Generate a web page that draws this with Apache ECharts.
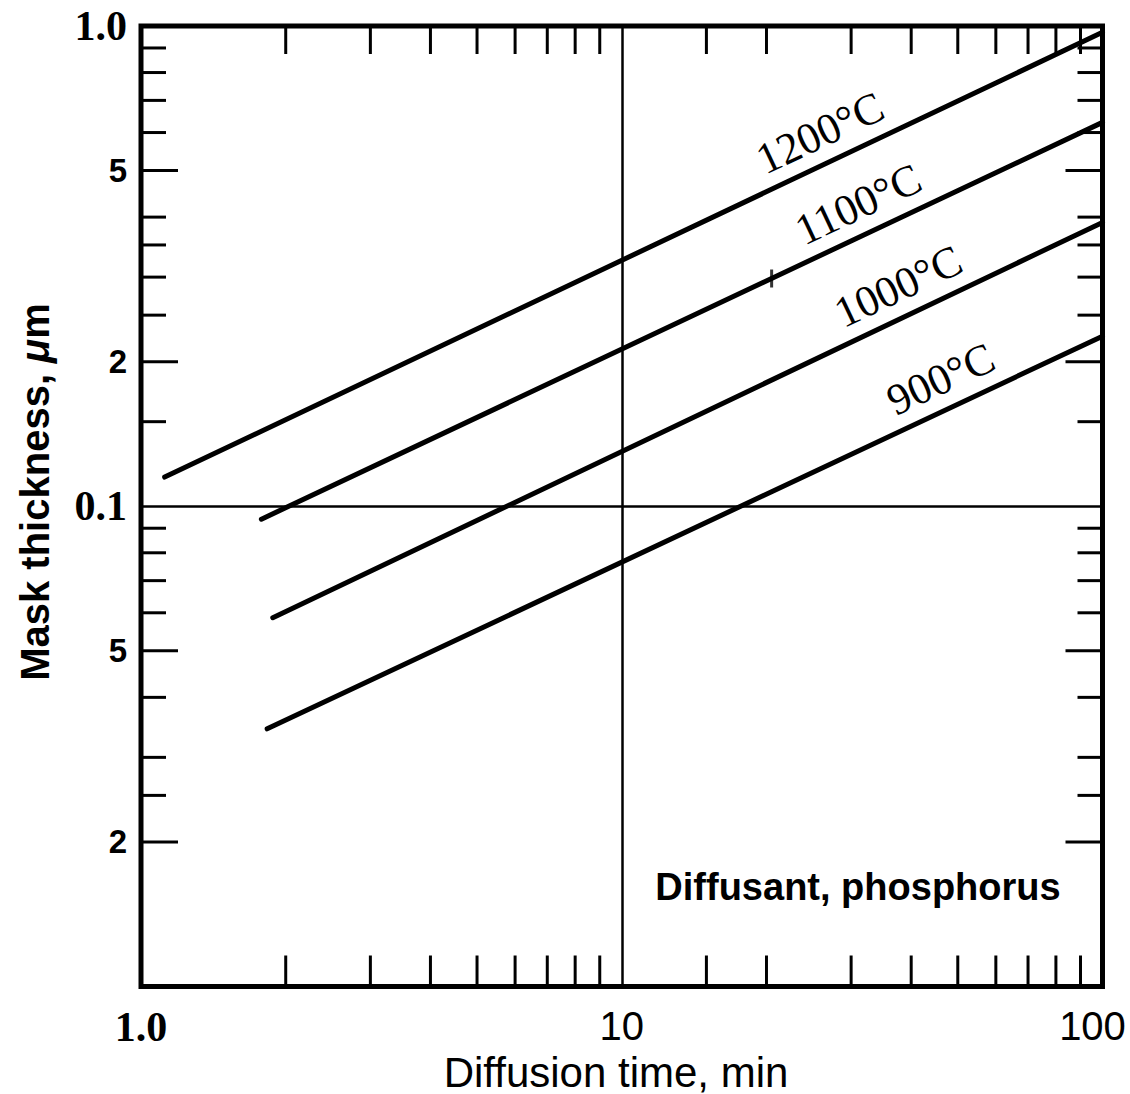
<!DOCTYPE html>
<html>
<head>
<meta charset="utf-8">
<script src="https://cdn.jsdelivr.net/npm/echarts@6/dist/echarts.min.js"></script>
<style>
  html, body { margin: 0; padding: 0; background: #fff; }
  #chart { width: 1130px; height: 1094px; }
</style>
</head>
<body>
<div id="chart"></div>
<script>
// Oxide mask thickness needed against phosphorus diffusion time (log-log)
const temperatures = ['1200°C', '1100°C', '1000°C', '900°C'];
const startTime = [1.12, 1.78, 1.88, 1.83];            // min
const startThickness = [0.115, 0.094, 0.0586, 0.0344]; // µm
const endTime = [100, 100, 100, 100];                  // min
const endThickness = [0.97, 0.63, 0.39, 0.226];        // µm
const crossMark = [[20.5, 0.298]];

// axis ranges and tick marks
const timeRange = [1, 100];
const thicknessRange = [0.01, 1];
const xMinorTicks = [2, 3, 4, 5, 6, 7, 8, 9, 15, 20, 30, 40, 50, 60, 70, 80, 90];
const yMinorTicks = [0.9, 0.8, 0.7, 0.6, 0.5, 0.4, 0.35, 0.3, 0.25, 0.2, 0.15,
                     0.09, 0.08, 0.07, 0.06, 0.05, 0.04, 0.03, 0.025, 0.02];
const yMinorLabelValues = [0.5, 0.2, 0.05, 0.02];
const yMinorLabelTexts = ['5', '2', '5', '2'];
const xMajorValues = [1, 10, 100];
const xMajorTexts = ['1.0', '10', '100'];
const yMajorValues = [1, 0.1, 0.01];
const yMajorTexts = ['1.0', '0.1', ''];

// where each temperature label sits along its line (minutes)
const labelAnchorTime = [27.5, 33, 40, 49];

const same = (a, b) => Math.abs(Math.log10(a) - Math.log10(b)) < 1e-6;
const pick = (values, texts, v) => {
  for (let i = 0; i < values.length; i++) if (same(values[i], v)) return texts[i];
  return '';
};

const INK = '#000';
const SERIF = '"Liberation Serif", "DejaVu Serif", serif';
const SANS = '"Liberation Sans", Arial, sans-serif';

const chart = echarts.init(document.getElementById('chart'), null, { renderer: 'svg' });

const lineSeries = temperatures.map((name, i) => ({
  type: 'line',
  name: name,
  data: [[startTime[i], startThickness[i]], [endTime[i], endThickness[i]]],
  symbol: 'none',
  silent: true,
  lineStyle: { color: INK, width: 5, cap: 'round' },
  z: 5
}));

const option = {
  animation: false,
  backgroundColor: '#fff',
  grid: {
    left: 141, top: 26, right: 27.5, bottom: 107.5,
    show: true, borderColor: INK, borderWidth: 5, backgroundColor: 'transparent'
  },
  xAxis: {
    type: 'log', logBase: 10, min: timeRange[0], max: timeRange[1],
    axisLine: { show: false },
    axisTick: { show: false },
    splitLine: { show: true, lineStyle: { color: INK, width: 2.5 } },
    axisLabel: {
      show: true, margin: 19, showMinLabel: true, showMaxLabel: true,
      formatter: v => {
        const t = pick(xMajorValues, xMajorTexts, v);
        if (same(v, 1)) return '{ser|' + t + '}';
        if (same(v, 100)) return '{last|' + t + '}';
        return '{san|' + t + '}';
      },
      rich: {
        ser: { fontFamily: SERIF, fontWeight: 'bold', fontSize: 42, color: INK },
        san: { fontFamily: SANS, fontSize: 40, color: INK },
        last: { fontFamily: SANS, fontSize: 40, color: INK, padding: [0, 20, 0, 0] }
      }
    }
  },
  yAxis: {
    type: 'log', logBase: 10, min: thicknessRange[0], max: thicknessRange[1],
    axisLine: { show: false },
    axisTick: { show: false },
    splitLine: { show: true, lineStyle: { color: INK, width: 2.5 } },
    axisLabel: {
      show: true, margin: 14, showMinLabel: true, showMaxLabel: true,
      formatter: v => {
        const t = pick(yMajorValues, yMajorTexts, v);
        return t ? '{ser|' + t + '}' : '';
      },
      rich: {
        ser: { fontFamily: SERIF, fontWeight: 'bold', fontSize: 42, color: INK }
      }
    }
  },
  graphic: [
    {
      type: 'text', x: 616, y: 1072, silent: true,
      style: {
        text: 'Diffusion time, min', fill: INK,
        fontFamily: SANS, fontSize: 42,
        align: 'center', verticalAlign: 'middle'
      }
    },
    {
      type: 'text', x: 35, y: 492, rotation: Math.PI / 2, silent: true,
      style: {
        text: 'Mask thickness, {mu|μ}m', fill: INK,
        fontFamily: SANS, fontSize: 40, fontWeight: 'bold',
        align: 'center', verticalAlign: 'middle',
        rich: {
          mu: { fontFamily: SANS, fontSize: 40, fontWeight: 'bold', fontStyle: 'italic', fill: INK }
        }
      }
    },
    {
      type: 'text', x: 858, y: 887, silent: true,
      style: {
        text: 'Diffusant, phosphorus', fill: INK,
        fontFamily: SANS, fontSize: 38, fontWeight: 'bold',
        align: 'center', verticalAlign: 'middle'
      }
    }
  ],
  series: [
    ...lineSeries,
    {
      type: 'scatter', name: 'mark', data: crossMark, silent: true,
      symbol: 'rect', symbolSize: [3, 18], itemStyle: { color: INK }, z: 6
    },
    {
      // minor time ticks, inward from bottom and top edges
      type: 'custom', name: 'x ticks', silent: true, z: 4,
      data: xMinorTicks.map(t => [t, thicknessRange[0]]),
      renderItem: (params, api) => {
        const t = api.value(0);
        const b = api.coord([t, thicknessRange[0]]);
        const tp = api.coord([t, thicknessRange[1]]);
        const st = { stroke: INK, lineWidth: 3 };
        return {
          type: 'group',
          children: [
            { type: 'line', shape: { x1: b[0], y1: b[1], x2: b[0], y2: b[1] - 31 }, style: st },
            { type: 'line', shape: { x1: tp[0], y1: tp[1], x2: tp[0], y2: tp[1] + 28 }, style: st }
          ]
        };
      }
    },
    {
      // minor thickness ticks, inward from left and right edges
      type: 'custom', name: 'y ticks', silent: true, z: 4,
      data: yMinorTicks.map(v => [timeRange[0], v]),
      renderItem: (params, api) => {
        const v = api.value(1);
        const l = api.coord([timeRange[0], v]);
        const r = api.coord([timeRange[1], v]);
        const long = yMinorLabelValues.some(x => same(x, v));
        const len = long ? 37 : 25;
        const st = { stroke: INK, lineWidth: 3 };
        return {
          type: 'group',
          children: [
            { type: 'line', shape: { x1: l[0], y1: l[1], x2: l[0] + len, y2: l[1] }, style: st },
            { type: 'line', shape: { x1: r[0], y1: r[1], x2: r[0] - len, y2: r[1] }, style: st }
          ]
        };
      }
    },
    {
      // mantissa labels between the decades
      type: 'custom', name: 'y minor labels', silent: true, z: 4,
      data: yMinorLabelValues.map(v => [timeRange[0], v]),
      renderItem: (params, api) => {
        const p = api.coord([timeRange[0], api.value(1)]);
        return {
          type: 'text', x: p[0] - 14, y: p[1],
          style: {
            text: yMinorLabelTexts[params.dataIndex], fill: INK,
            fontFamily: SANS, fontSize: 33, fontWeight: 'bold',
            align: 'right', verticalAlign: 'middle'
          }
        };
      }
    },
    {
      // temperature labels laid along each line
      type: 'custom', name: 'line labels', silent: true, z: 6,
      data: temperatures.map((_, i) => [labelAnchorTime[i], startThickness[i]]),
      renderItem: (params, api) => {
        const i = params.dataIndex;
        const p0 = api.coord([startTime[i], startThickness[i]]);
        const p1 = api.coord([endTime[i], endThickness[i]]);
        const px = api.coord([labelAnchorTime[i], startThickness[i]])[0];
        const f = (px - p0[0]) / (p1[0] - p0[0]);
        const py = p0[1] + f * (p1[1] - p0[1]);
        const theta = Math.atan2(p0[1] - p1[1], p1[0] - p0[0]);
        const lift = 30;
        return {
          type: 'text',
          x: px - lift * Math.sin(theta),
          y: py - lift * Math.cos(theta),
          rotation: theta,
          style: {
            text: temperatures[i], fill: INK,
            fontFamily: SERIF, fontSize: 44,
            align: 'center', verticalAlign: 'middle'
          }
        };
      }
    }
  ]
};

chart.setOption(option);
</script>
</body>
</html>
